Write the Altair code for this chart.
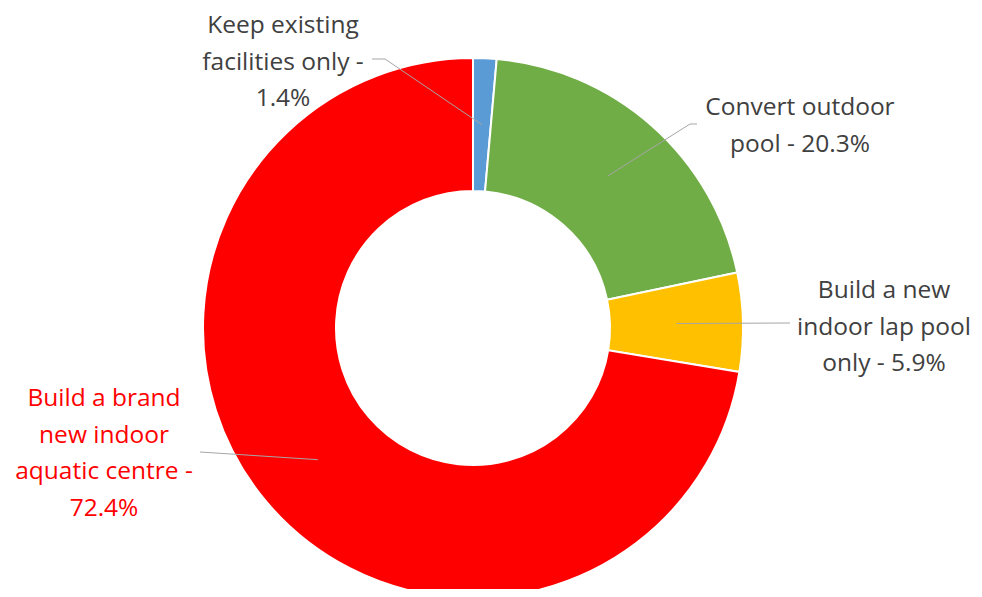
import math
import altair as alt
import pandas as pd

# Data
categories = [
    "Keep existing facilities only",
    "Convert outdoor pool",
    "Build a new indoor lap pool only",
    "Build a brand new indoor aquatic centre",
]
shares = [1.4, 20.3, 5.9, 72.4]
label_texts = [
    "Keep existing\nfacilities only -\n1.4%",
    "Convert outdoor\npool - 20.3%",
    "Build a new\nindoor lap pool\nonly - 5.9%",
    "Build a brand\nnew indoor\naquatic centre -\n72.4%",
]
colors = ["#5B9BD5", "#70AD47", "#FFC000", "#FF0000"]
label_colors = ["#404040", "#404040", "#404040", "#FF0000"]

# Layout (pixels in chart coordinates)
W, H = 966, 581
CX, CY = 465, 320
R_OUT, R_IN = 270, 137
label_pos = [(275, 18), (792, 100), (876, 283), (96, 391)]
elbows = [[(377, 51), (364, 51)], [(682, 116), (689, 116)], [(782, 315)], [(192, 444)]]

df = pd.DataFrame({"cat": categories, "share": shares, "order": range(4)})

arcs = alt.Chart(df).mark_arc(
    outerRadius=R_OUT, innerRadius=R_IN, stroke="white", strokeWidth=2
).encode(
    theta=alt.Theta("share:Q", stack=True),
    order=alt.Order("order:Q"),
    color=alt.Color("cat:N", scale=alt.Scale(domain=categories, range=colors), legend=None),
    x=alt.value(CX), y=alt.value(CY),
)

# Leader lines from slice mid-points
total = sum(shares)
segs = []
cum = 0
r_mid = (R_OUT + R_IN) / 2
for i, s in enumerate(shares):
    mid = (cum + s / 2) / total * 2 * math.pi
    cum += s
    pts = [(CX + r_mid * math.sin(mid), CY - r_mid * math.cos(mid))] + elbows[i]
    for a, b in zip(pts[:-1], pts[1:]):
        segs.append({"x": a[0], "y": a[1], "x2": b[0], "y2": b[1]})
seg_df = pd.DataFrame(segs)
lines = alt.Chart(seg_df).mark_rule(color="#A6A6A6", strokeWidth=1).encode(
    x=alt.X("x:Q", scale=None), y=alt.Y("y:Q", scale=None),
    x2="x2:Q", y2="y2:Q",
)

lab_df = pd.DataFrame({
    "text": label_texts,
    "x": [p[0] for p in label_pos],
    "y": [p[1] for p in label_pos],
    "c": label_colors,
})
labels = alt.Chart(lab_df).mark_text(
    font="Open Sans", fontSize=24.5, lineHeight=36.5, align="center", baseline="middle", lineBreak="\n"
).encode(
    x=alt.X("x:Q", scale=None), y=alt.Y("y:Q", scale=None),
    text="text:N", color=alt.Color("c:N", scale=None),
)

chart = alt.layer(arcs, lines, labels).properties(
    width=W, height=H, padding=0, autosize="none"
).configure_view(stroke=None)

chart.save("out.html", embed_options={"renderer": "svg", "actions": False})
